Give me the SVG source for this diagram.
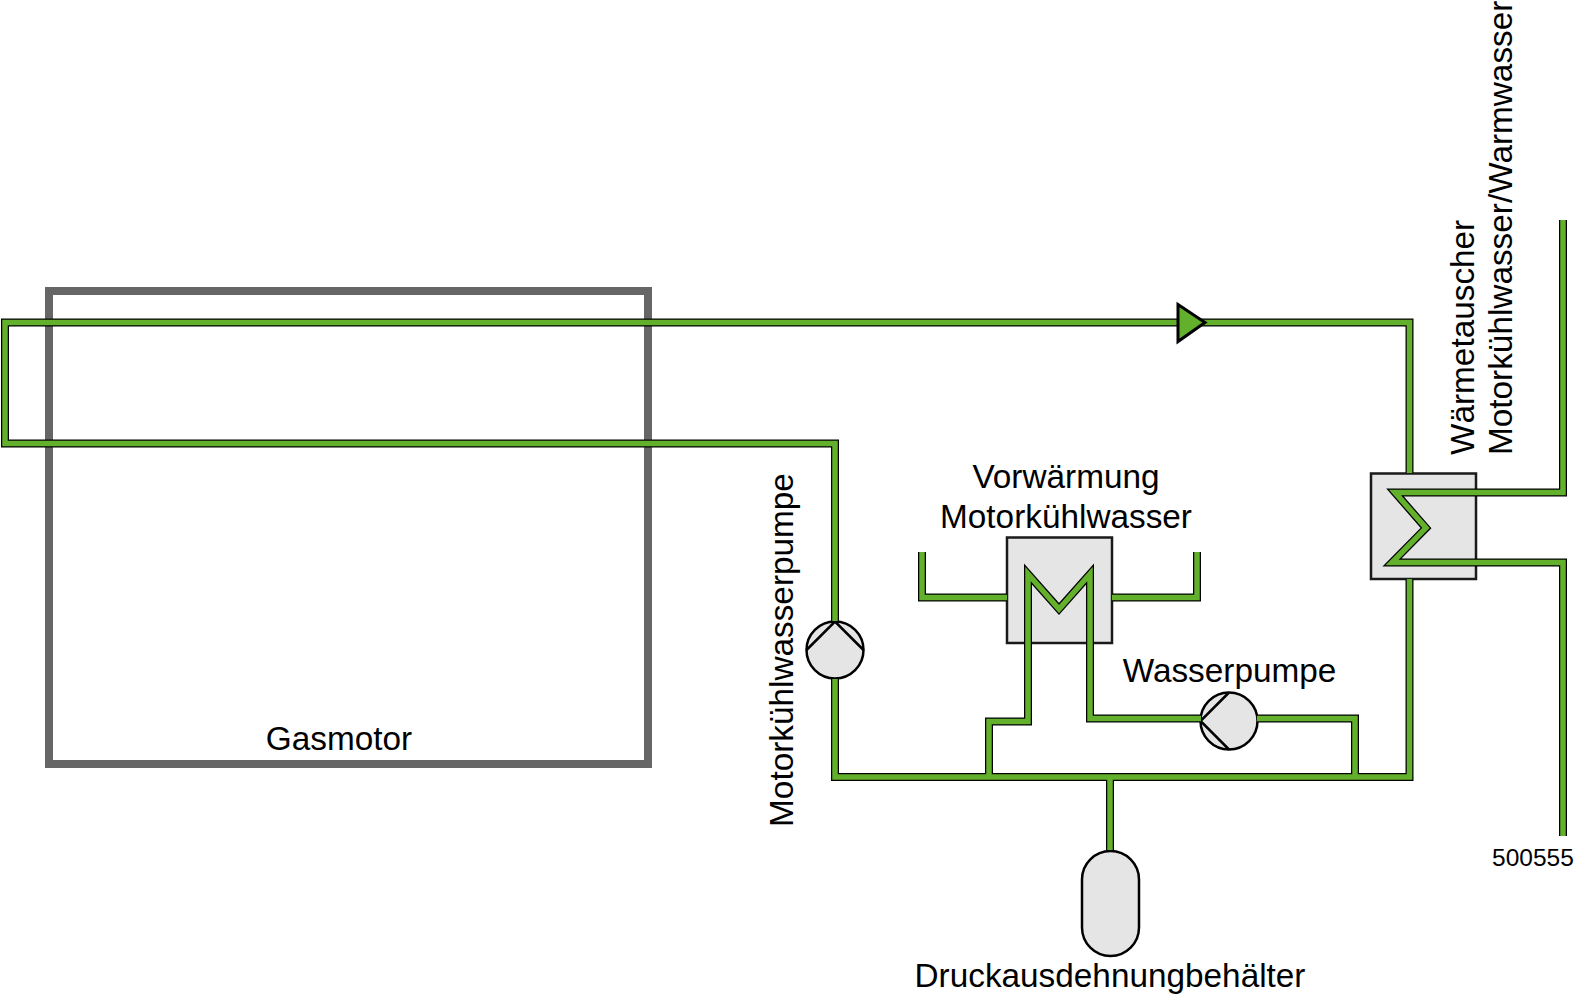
<svg xmlns="http://www.w3.org/2000/svg" width="1575" height="998" viewBox="0 0 1575 998">
<style>
text{font-family:"Liberation Sans",Arial,sans-serif;font-size:33.330px;fill:#000;text-anchor:middle}
.p{fill:none;stroke-miterlimit:10}
.k{stroke:#000;stroke-width:8}
.g{stroke:#63b02c;stroke-width:5.500}
.n{fill:#e5e5e5;stroke:#000;stroke-width:2.5}
.h{fill:#e5e5e5;stroke:#1a1a1a;stroke-width:2.5}
.c{fill:none;stroke:#000;stroke-width:2.5}
</style>
<defs>
<path id="a" d="M1409.5 473V322.5H5V443.500H835V621M835 679V777H1409.5V579M989 777V721.500H1028V574L1059 609L1090 574V718.500H1201M1257 718.500H1355V777M1110 777V850M922 552V597.500H1007M1112 597.500H1197V552M1563 220V492.500H1395L1426 528L1392 562.500H1563V836"/>
</defs>
<g id="gasmotor"><rect x="49" y="291" width="599" height="473" fill="none" stroke="#666" stroke-width="8"/><text x="339" y="750">Gasmotor</text></g>
<g id="waermetauscher"><rect class="h" x="1371" y="473.500" width="105" height="105.500"/><text transform="translate(1473.500 455) rotate(-90)" style="text-anchor:start">Wärmetauscher</text><text transform="translate(1512 455) rotate(-90)" style="text-anchor:start">Motorkühlwasser/Warmwasser</text></g>
<g id="vorwaermung"><rect class="h" x="1007" y="537.500" width="105" height="105.500"/><text x="1066" y="488">Vorwärmung</text><text x="1066" y="528">Motorkühlwasser</text></g>
<g id="motorkuehlwasserpumpe"><circle class="n" cx="835" cy="650" r="28.500"/><path class="c" d="M806.500 650L835 621.500L863.500 650"/><text transform="translate(793 650) rotate(-90)">Motorkühlwasserpumpe</text></g>
<g id="wasserpumpe"><circle class="n" cx="1229" cy="721" r="28.500"/><path class="c" d="M1229 692.500L1200.500 721L1229 749.500"/><text x="1229.500" y="682">Wasserpumpe</text></g>
<g id="druckausdehnungsbehaelter"><rect class="n" x="1082" y="851" width="57" height="105" rx="28.500"/><text x="1110" y="987">Druckausdehnungbehälter</text></g>
<g id="connectors">
<use href="#a" class="p k"/>
<use href="#a" class="p g"/>
<path d="M1178 304.500L1205 322.500L1178 341.500Z" fill="#63b02c" stroke="#000" stroke-width="3"/>
</g>
<text x="1533" y="866" style="font-size:24.500px">500555</text>
</svg>
